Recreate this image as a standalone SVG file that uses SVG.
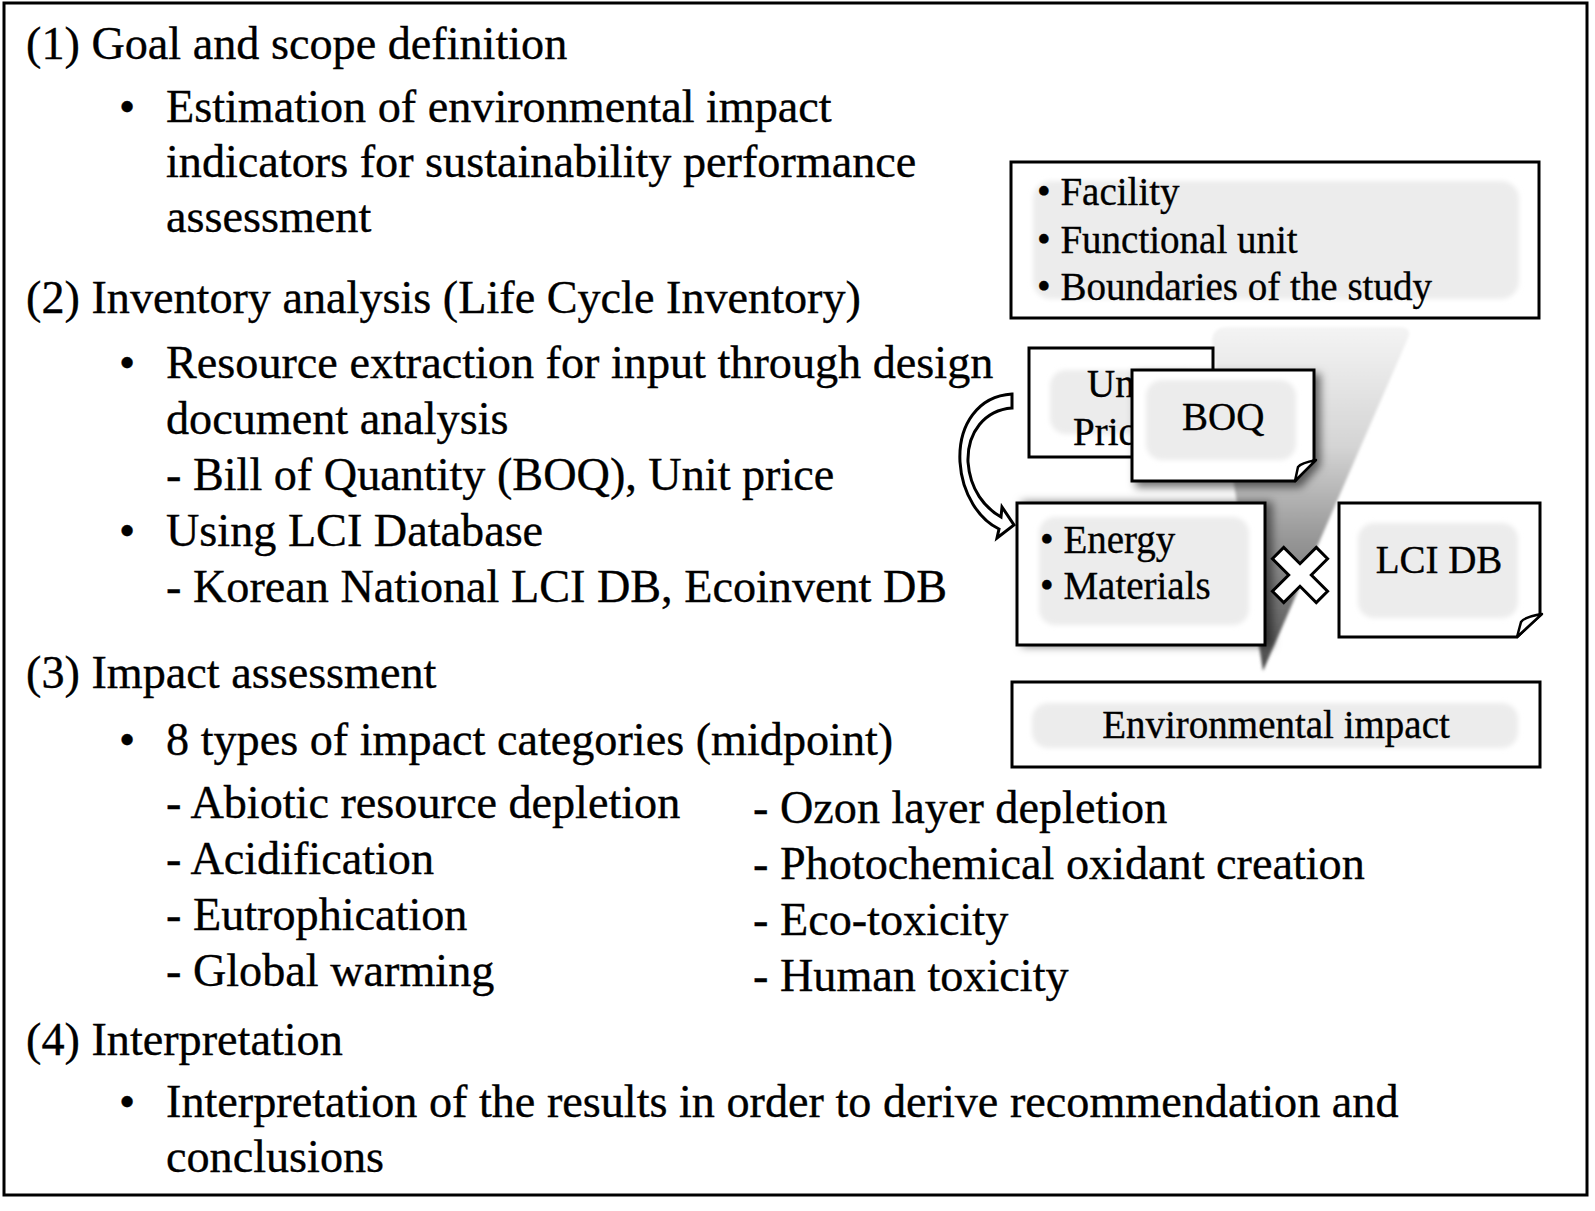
<svg xmlns="http://www.w3.org/2000/svg" width="1595" height="1211" viewBox="0 0 1595 1211">
<style>
text{font-family:"Liberation Serif","Times New Roman",serif;fill:#000;stroke:#000;stroke-width:0.35px}
.L{font-size:46.2px}
.S{font-size:39px}
.box{fill:#fff;stroke:#000;stroke-width:3}
.blob{fill:#ececec;filter:url(#soft)}
.bul{text-anchor:middle}
</style>
<defs>
<filter id="soft" x="-10%" y="-20%" width="120%" height="140%"><feGaussianBlur stdDeviation="2.5"/></filter>
<filter id="shadow" x="-10%" y="-10%" width="130%" height="130%"><feDropShadow dx="5" dy="5" stdDeviation="4" flood-color="#000" flood-opacity="0.55"/></filter>
<filter id="shadowR" x="-10%" y="-10%" width="130%" height="120%"><feDropShadow dx="6" dy="0" stdDeviation="4" flood-color="#000" flood-opacity="0.5"/></filter>
<filter id="funblur" x="-10%" y="-10%" width="120%" height="120%"><feGaussianBlur stdDeviation="1.5"/></filter>
<linearGradient id="fun" x1="0" y1="327" x2="0" y2="671" gradientUnits="userSpaceOnUse">
<stop offset="0" stop-color="#f4f4f4"/>
<stop offset="0.35" stop-color="#d4d4d4"/>
<stop offset="0.6" stop-color="#9a9a9a"/>
<stop offset="1" stop-color="#4a4a4a"/>
</linearGradient>
</defs>
<rect x="4" y="3" width="1583" height="1192" fill="#fff" stroke="#000" stroke-width="3"/>

<g id="text-left">
<text class="L" x="26" y="59">(1) Goal and scope definition</text>
<text class="L bul" x="127" y="122">•</text>
<text class="L" x="166" y="122">Estimation of environmental impact</text>
<text class="L" x="166" y="177">indicators for sustainability performance</text>
<text class="L" x="166" y="232">assessment</text>
<text class="L" x="26" y="313">(2) Inventory analysis (Life Cycle Inventory)</text>
<text class="L bul" x="127" y="378">•</text>
<text class="L" x="166" y="378">Resource extraction for input through design</text>
<text class="L" x="166" y="434">document analysis</text>
<text class="L" x="166" y="490">- Bill of Quantity (BOQ), Unit price</text>
<text class="L bul" x="127" y="546">•</text>
<text class="L" x="166" y="546">Using LCI Database</text>
<text class="L" x="166" y="602">- Korean National LCI DB, Ecoinvent DB</text>
<text class="L" x="26" y="688">(3) Impact assessment</text>
<text class="L bul" x="127" y="755">•</text>
<text class="L" x="166" y="755">8 types of impact categories (midpoint)</text>
<text class="L" x="166" y="818">- Abiotic resource depletion</text>
<text class="L" x="166" y="874">- Acidification</text>
<text class="L" x="166" y="930">- Eutrophication</text>
<text class="L" x="166" y="986">- Global warming</text>
<text class="L" x="753" y="823">- Ozon layer depletion</text>
<text class="L" x="753" y="879">- Photochemical oxidant creation</text>
<text class="L" x="753" y="935">- Eco-toxicity</text>
<text class="L" x="753" y="991">- Human toxicity</text>
<text class="L" x="26" y="1055">(4) Interpretation</text>
<text class="L bul" x="127" y="1117">•</text>
<text class="L" x="166" y="1117">Interpretation of the results in order to derive recommendation and</text>
<text class="L" x="166" y="1172">conclusions</text>
</g>

<g id="scope-box">
<rect class="box" x="1011" y="162" width="528" height="156"/>
<rect class="blob" x="1033" y="181" width="486" height="118" rx="18"/>
<text class="S" x="1037" y="205">• Facility</text>
<text class="S" x="1037" y="253">• Functional unit</text>
<text class="S" x="1037" y="300">• Boundaries of the study</text>
</g>

<g id="funnel">
<path d="M1212 342 Q1212 327 1228 327 L1398 327 Q1413 327 1408 338 L1263 671 Z" fill="url(#fun)" filter="url(#funblur)"/>
</g>

<g id="unit-price">
<rect class="box" x="1029" y="348" width="184" height="109"/>
<rect class="blob" x="1050" y="370" width="150" height="64" rx="16"/>
<text class="S" x="1087" y="397">Unit</text>
<text class="S" x="1073" y="445">Price</text>
</g>

<g id="boq">
<path class="box" d="M1132 370 H1314 V460 L1295 481 H1132 Z" filter="url(#shadow)"/>
<rect class="blob" x="1146" y="380" width="150" height="80" rx="16"/>
<path d="M1295 481 L1298 467 Q1301 463 1316 460 Z" fill="#fff" stroke="#000" stroke-width="2.5" stroke-linejoin="round"/>
<text class="S" x="1182" y="430">BOQ</text>
</g>

<g id="connectors">
<path d="M1012 394 C978 396 958 425 960 462 C962 495 980 520 999 529 L997 538 L1014 525 L1002 507 L1001 517 C985 508 970 490 968 462 C967 432 985 410 1012 408 Z" fill="#fff" stroke="#000" stroke-width="3" stroke-linejoin="miter"/>
</g>

<g id="energy-materials">
<rect class="box" x="1017" y="503" width="248" height="142" filter="url(#shadowR)"/>
<rect class="blob" x="1039" y="517" width="210" height="108" rx="16"/>
<text class="S" x="1040" y="553">• Energy</text>
<text class="S" x="1040" y="599">• Materials</text>
</g>

<g id="times">
<polygon points="-8,-31 8,-31 8,-8 31,-8 31,8 8,8 8,31 -8,31 -8,8 -31,8 -31,-8 -8,-8" transform="translate(1300 575) rotate(45)" fill="#fff" stroke="#000" stroke-width="3" stroke-linejoin="miter"/>
</g>

<g id="lci-db">
<path class="box" d="M1339 503 H1540 V615 L1517 637 H1339 Z"/>
<rect class="blob" x="1358" y="523" width="160" height="95" rx="16"/>
<path d="M1517 637 L1521 622 Q1524 617 1542 614 Z" fill="#fff" stroke="#000" stroke-width="2.5" stroke-linejoin="round"/>
<text class="S" x="1439" y="573" text-anchor="middle">LCI DB</text>
</g>

<g id="environmental-impact">
<rect class="box" x="1012" y="682" width="528" height="85"/>
<rect class="blob" x="1032" y="703" width="486" height="45" rx="16"/>
<text class="S" x="1276" y="738" text-anchor="middle">Environmental impact</text>
</g>
</svg>
